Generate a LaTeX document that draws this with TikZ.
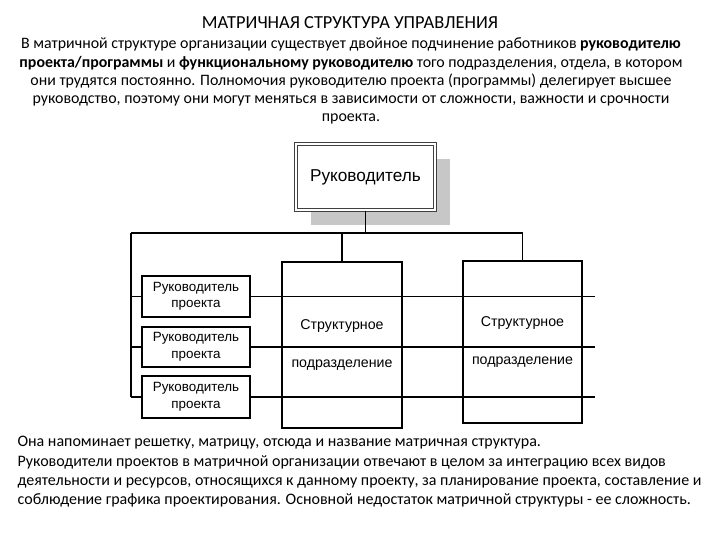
\documentclass[tikz,border=0pt]{standalone}
\usepackage{fontspec}
\setmainfont{Carlito}
\newfontfamily\diagfont{Liberation Sans}
\usetikzlibrary{shadows}

\begin{document}
\begin{tikzpicture}[x=1pt,y=-1pt,line width=1.1pt,
  bossbox/.style={draw=black!75, double, double distance=1.2pt, line width=1.4pt,
    fill=white, minimum width=139pt, minimum height=66pt, inner sep=0pt,
    font=\diagfont\fontsize{17.2}{20}\selectfont,
    drop shadow={shadow xshift=15pt, shadow yshift=-15pt, fill=black!22, opacity=1}},
  projbox/.style={draw, fill=white, minimum width=108pt, inner sep=0pt, align=center,
    font=\diagfont\fontsize{13.4}{16.5}\selectfont},
  deptbox/.style={draw, minimum width=120pt, inner sep=0pt, align=center,
    font=\diagfont\fontsize{14.2}{38}\selectfont}]

\useasboundingbox (0,0) rectangle (720,540);

% Title
\node[anchor=base, font=\fontsize{18.4}{22}\selectfont] (title) at (350,29)
{МАТРИЧНАЯ СТРУКТУРА УПРАВЛЕНИЯ};

% Intro text
\node[anchor=north, align=center, inner sep=0pt, font=\fontsize{15.9}{18.2}\selectfont] (intro) at (351,37.5)
{В матричной структуре организации существует двойное подчинение работников \textbf{руководителю}\\
\textbf{проекта/программы} и \textbf{функциональному руководителю} того подразделения, отдела, в котором\\
они трудятся постоянно. Полномочия руководителю проекта (программы) делегирует высшее\\
руководство, поэтому они могут меняться в зависимости от сложности, важности и срочности\\
проекта.};

% Top manager
\node[bossbox] (boss) at (365.5,177) {Руководитель};

% Departments
\node[deptbox, minimum height=166pt] (dep1) at (342,345) {Структурное\\подразделение};
\node[deptbox, minimum width=119pt, minimum height=162pt] (dep2) at (522.5,342) {Структурное\\подразделение};

% Project managers
\node[projbox, minimum height=41pt] (pm1) at (196,296.5) {Руководитель\\проекта};
\node[projbox, minimum height=40pt] (pm2) at (196,347) {Руководитель\\проекта};
\node[projbox, minimum height=42pt] (pm3) at (196,397) {Руководитель\\проекта};

% Bus and rows
\coordinate (busL) at (131,233);
\coordinate (rowR) at (595,0);

\draw (boss.south) -- (boss.south |- busL);
\draw (busL) -- (dep2.north |- busL) -- (dep2.north);
\draw (dep1.north |- busL) -- (dep1.north);
\draw (busL) -- (busL |- pm3);

\foreach \pm in {pm1,pm3} {
  \draw (busL |- \pm) -- (\pm.west);
  \draw (\pm.east) -- (\pm -| rowR);
}
\draw[line width=2.2pt] (busL |- pm2) -- (pm2.west);
\draw[line width=2.2pt] (pm2.east) -- (pm2 -| rowR);

% Closing text
\node[anchor=north west, align=left, inner sep=0pt, font=\fontsize{16}{19.3}\selectfont] (outro) at (17,436)
{Она напоминает решетку, матрицу, отсюда и название матричная структура.\\
Руководители проектов в матричной организации отвечают в целом за интеграцию всех видов\\
деятельности и ресурсов, относящихся к данному проекту, за планирование проекта, составление и\\
соблюдение графика проектирования. Основной недостаток матричной структуры - ее сложность.};

\end{tikzpicture}
\end{document}
